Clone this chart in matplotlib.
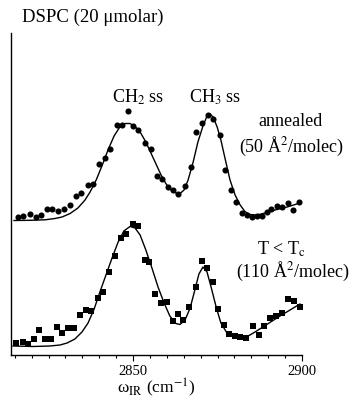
import matplotlib
matplotlib.use('Agg')
from matplotlib import pyplot as plt
from matplotlib.ticker import MultipleLocator

plt.rcParams['font.family'] = ['Liberation Serif', 'DejaVu Serif']
plt.rcParams['mathtext.fontset'] = 'stix'

# annealed film (circles), signal in a.u. with vertical offset
annealed_w = [2816.1, 2817.5, 2819.4, 2821.2, 2822.7, 2824.5, 2826.1, 2827.8, 2829.5, 2831.4,
              2833.1, 2834.7, 2836.8, 2838.3, 2839.9, 2841.6, 2843.2, 2845.2, 2846.7, 2848.4,
              2850.1, 2851.6, 2853.6, 2855.2, 2857.0, 2858.6, 2860.3, 2861.8, 2863.4, 2865.4,
              2867.3, 2868.7, 2870.4, 2872.1, 2873.6, 2875.7, 2877.1, 2878.9, 2880.5, 2882.1,
              2883.6, 2885.2, 2886.7, 2888.2, 2889.5, 2890.9, 2892.5, 2894.2, 2895.9, 2897.4,
              2899.2]
annealed_s = [1.375, 1.387, 1.414, 1.383, 1.40, 1.458, 1.457, 1.442, 1.458, 1.505,
              1.592, 1.623, 1.70, 1.71, 1.913, 1.97, 2.058, 2.295, 2.295, 2.438,
              2.288, 2.245, 2.12, 2.055, 1.79, 1.755, 1.675, 1.65, 1.608, 1.688,
              1.877, 2.23, 2.323, 2.395, 2.363, 2.195, 1.85, 1.65, 1.533, 1.42,
              1.40, 1.38, 1.385, 1.39, 1.425, 1.457, 1.492, 1.48, 1.52, 1.445,
              1.533]

# fit to annealed film
annealed_fit_w = [2814.8, 2819.5, 2824.0, 2826.9, 2829.0, 2831.4, 2833.7, 2835.8, 2837.3, 2839.1,
                  2840.8, 2842.6, 2844.4, 2845.9, 2847.6, 2849.1, 2850.6, 2852.1, 2853.8, 2855.3,
                  2856.8, 2858.3, 2859.8, 2861.2, 2862.7, 2863.9, 2865.1, 2866.3, 2867.8, 2869.2,
                  2870.7, 2871.9, 2872.8, 2873.7, 2874.9, 2876.0, 2877.2, 2878.7, 2880.2, 2881.7,
                  2883.1, 2884.6, 2886.7, 2889.1, 2892.0, 2895.6, 2899.4]
annealed_fit_s = [1.345, 1.347, 1.352, 1.365, 1.38, 1.415, 1.47, 1.55, 1.63, 1.75,
                  1.89, 2.05, 2.19, 2.27, 2.315, 2.315, 2.285, 2.23, 2.13, 2.02,
                  1.91, 1.80, 1.71, 1.65, 1.62, 1.615, 1.65, 1.75, 1.93, 2.13,
                  2.29, 2.39, 2.41, 2.38, 2.28, 2.15, 1.97, 1.75, 1.60, 1.50,
                  1.435, 1.405, 1.40, 1.42, 1.45, 1.48, 1.52]

# T < Tc film (squares)
cold_w = [2815.4, 2817.4, 2819.0, 2820.6, 2822.3, 2824.0, 2825.7, 2827.5, 2829.1, 2830.8,
          2832.4, 2834.3, 2836.1, 2837.7, 2839.5, 2841.0, 2842.9, 2844.7, 2846.5, 2848.0,
          2849.9, 2851.4, 2853.4, 2854.8, 2856.5, 2858.2, 2860.0, 2861.7, 2863.3, 2864.9,
          2866.6, 2868.6, 2870.4, 2871.8, 2873.6, 2875.2, 2876.9, 2878.5, 2880.2, 2881.8,
          2883.4, 2885.6, 2887.2, 2888.9, 2890.6, 2892.3, 2894.1, 2895.8, 2897.6, 2899.4]
cold_s = [0.117, 0.133, 0.113, 0.165, 0.25, 0.162, 0.158, 0.283, 0.22, 0.27,
          0.27, 0.402, 0.45, 0.437, 0.575, 0.632, 0.827, 0.99, 1.175, 1.208,
          1.307, 1.293, 0.953, 0.933, 0.607, 0.517, 0.533, 0.345, 0.407, 0.355,
          0.48, 0.685, 0.94, 0.867, 0.727, 0.46, 0.297, 0.21, 0.195, 0.183,
          0.172, 0.287, 0.20, 0.29, 0.375, 0.395, 0.423, 0.557, 0.537, 0.48]

cold_fit_w = [2814.5, 2820.4, 2825.4, 2828.4, 2830.5, 2832.8, 2834.9, 2836.7, 2838.5, 2840.2,
              2842.0, 2843.8, 2845.6, 2847.3, 2849.1, 2850.6, 2852.1, 2853.8, 2855.6, 2857.4,
              2859.2, 2860.9, 2862.7, 2863.9, 2865.4, 2866.9, 2868.3, 2869.5, 2870.7, 2871.9,
              2873.1, 2874.6, 2876.0, 2877.8, 2880.2, 2883.1, 2886.1, 2889.1, 2893.5, 2899.4]
cold_fit_s = [0.09, 0.085, 0.09, 0.10, 0.12, 0.16, 0.23, 0.32, 0.46, 0.63,
              0.80, 0.97, 1.13, 1.24, 1.285, 1.27, 1.20, 1.05, 0.87, 0.68,
              0.52, 0.39, 0.315, 0.305, 0.35, 0.47, 0.65, 0.81, 0.88, 0.83,
              0.68, 0.48, 0.32, 0.22, 0.19, 0.17, 0.23, 0.295, 0.39, 0.51]

fig = plt.figure(figsize=(3.56, 4.0), dpi=100)
ax = fig.add_axes([11 / 356, 45 / 400, 291 / 356, 322 / 400])

ax.plot(annealed_fit_w, annealed_fit_s, color='k', lw=1.0)
ax.plot(annealed_w, annealed_s, 'o', color='k', ms=4.4, mew=0)
ax.plot(cold_fit_w, cold_fit_s, color='k', lw=1.0)
ax.plot(cold_w, cold_s, 's', color='k', ms=4.2, mew=0)

ax.set_xlim(2813.9, 2900)
ax.set_ylim(0, 3.22)
ax.spines['top'].set_visible(False)
ax.spines['right'].set_visible(False)
ax.spines['left'].set_linewidth(1.0)
ax.spines['bottom'].set_linewidth(1.0)
ax.set_yticks([])
ax.set_xticks([2850, 2900])
ax.xaxis.set_minor_locator(MultipleLocator(5))
ax.tick_params(axis='x', which='major', direction='out', length=4.5, width=0.8,
               labelsize=10.5, pad=2.5)
ax.tick_params(axis='x', which='minor', direction='out', length=2.5, width=0.8)
ax.set_xlabel(r'ω$_\mathrm{IR}$ (cm$^{-1}$)', fontsize=12.5, labelpad=-1)

# peak and trace labels
ax.text(2851.5, 2.58, r'CH$_2$ ss', fontsize=13, ha='center', va='center')
ax.text(2874.3, 2.58, r'CH$_3$ ss', fontsize=13, ha='center', va='center')
ax.text(2896.6, 2.34, 'annealed', fontsize=13, ha='center', va='center')
ax.text(2896.9, 2.09, r'(50 Å$^2$/molec)', fontsize=13, ha='center', va='center')
ax.text(2893.8, 1.06, r'T < T$_\mathrm{c}$', fontsize=13, ha='center', va='center')
ax.text(2897.3, 0.84, r'(110 Å$^2$/molec)', fontsize=13, ha='center', va='center')

fig.text(22 / 356, 1 - 17 / 400, 'DSPC (20 μmolar)', fontsize=13.5, ha='left', va='center')

fig.savefig('out.png', dpi=100)
